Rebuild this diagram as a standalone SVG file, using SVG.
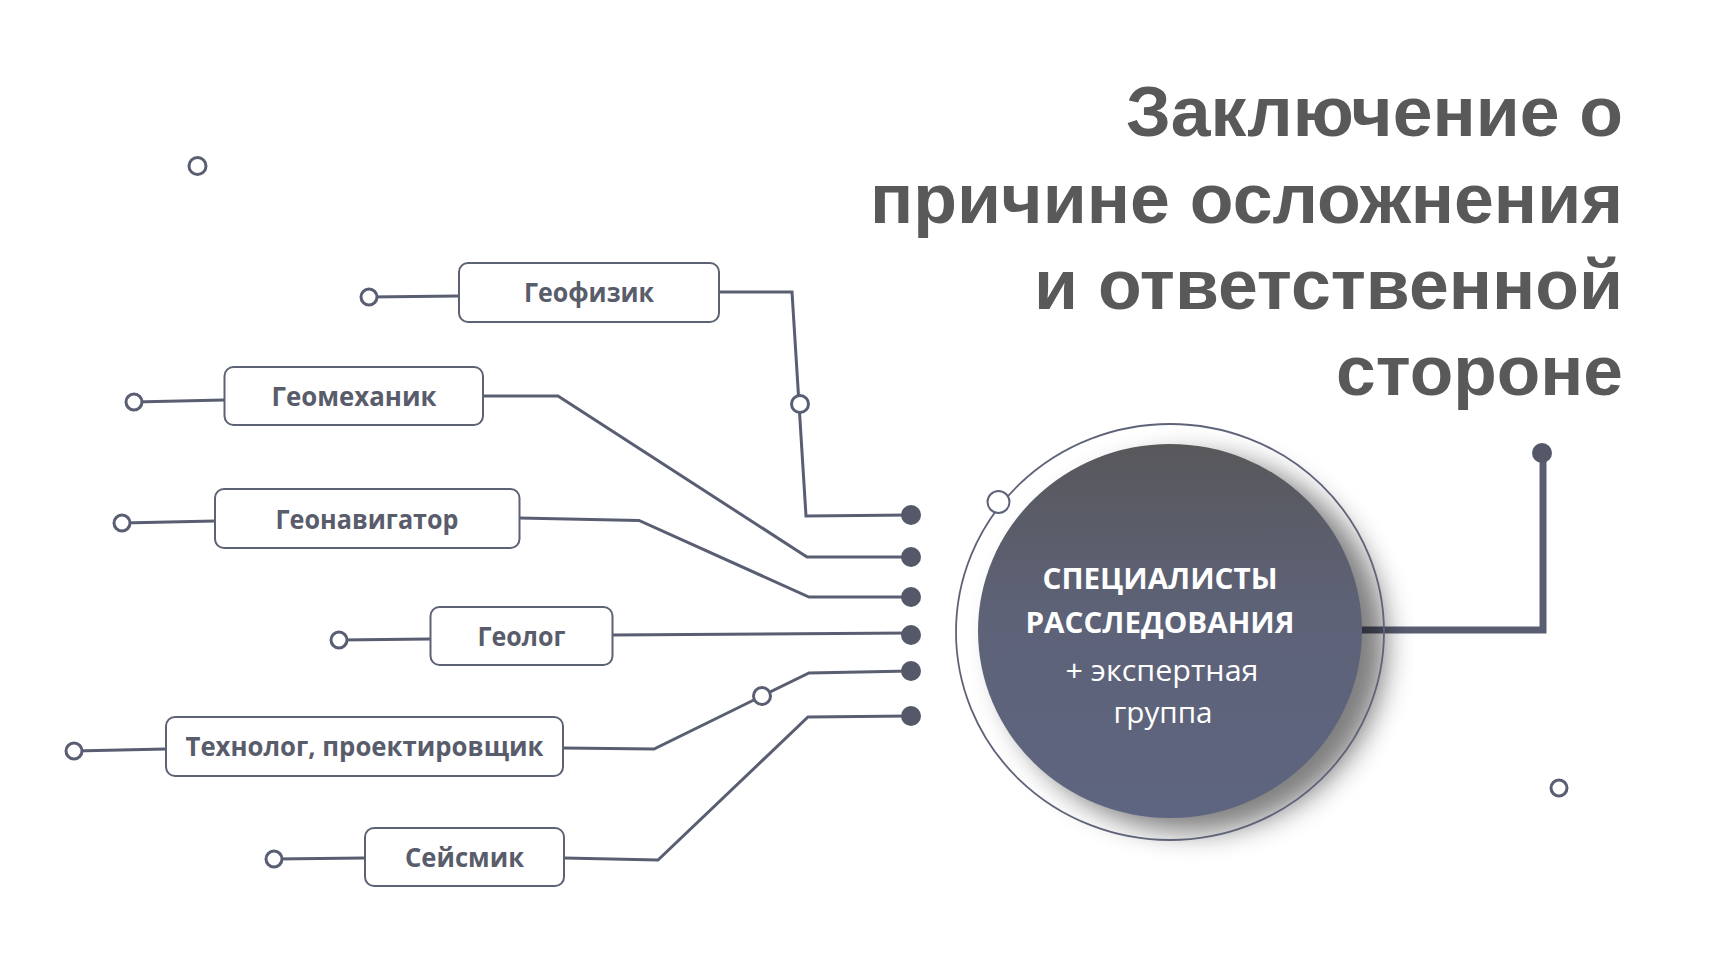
<svg xmlns="http://www.w3.org/2000/svg" width="1711" height="973" viewBox="0 0 1711 973">
<defs>
<style>
.box{fill:#fff;stroke:#5d6275;stroke-width:2}
.lbl{font-family:"Open Sans","Noto Sans",sans-serif;font-weight:700;font-size:27px;fill:#595c6b;text-anchor:middle}
.ln{fill:none;stroke:#5a5e72;stroke-width:3;stroke-linejoin:miter}
.oc{fill:#fff;stroke:#5a5e72;stroke-width:3}
.dot{fill:#545869}
.ttl{font-family:"Liberation Sans",Arial,sans-serif;font-weight:700;font-size:70px;fill:#595959;text-anchor:end}
.ct{font-family:"Open Sans","Noto Sans",sans-serif;fill:#fff;text-anchor:middle}
</style>
<linearGradient id="g" x1="0" y1="0" x2="0" y2="1">
<stop offset="0" stop-color="#58585b"/>
<stop offset="0.45" stop-color="#5d6277"/>
<stop offset="1" stop-color="#5e6580"/>
</linearGradient>
<filter id="sh" x="-30%" y="-30%" width="160%" height="160%"><feGaussianBlur stdDeviation="14"/></filter>
</defs>
<rect width="1711" height="973" fill="#fff"/>

<g id="title">
<text class="ttl" x="1623" y="136" textLength="497" lengthAdjust="spacingAndGlyphs">Заключение о</text>
<text class="ttl" x="1623" y="223" textLength="753" lengthAdjust="spacingAndGlyphs">причине осложнения</text>
<text class="ttl" x="1623" y="309" textLength="589" lengthAdjust="spacingAndGlyphs">и ответственной</text>
<text class="ttl" x="1623" y="395" textLength="287" lengthAdjust="spacingAndGlyphs">стороне</text>
</g>

<g id="connectors">
<path class="ln" d="M369,297 L459,296"/>
<path class="ln" d="M134,402 L224,400"/>
<path class="ln" d="M122,523 L215,521"/>
<path class="ln" d="M339,640 L430,639"/>
<path class="ln" d="M74,751 L166,749"/>
<path class="ln" d="M274,859 L365,858"/>
<path class="ln" d="M719,292 L792,292 L806,516 L911,515"/>
<path class="ln" d="M483,396 L558,396 L807,557 L911,557"/>
<path class="ln" d="M519,518 L639,520.5 L809,597 L911,597"/>
<path class="ln" d="M612,635 L911,633"/>
<path class="ln" d="M563,748 L654,749 L762,696 L809,673 L911,671"/>
<path class="ln" d="M564,858 L658,860 L808,717 L911,716"/>
<path fill="none" stroke="#5a5e72" stroke-width="7" d="M1354,630 L1543,630 L1543,453"/>
<circle class="oc" cx="369" cy="297" r="8"/>
<circle class="oc" cx="134" cy="402" r="8"/>
<circle class="oc" cx="122" cy="523" r="8"/>
<circle class="oc" cx="339" cy="640" r="8"/>
<circle class="oc" cx="74" cy="751" r="8"/>
<circle class="oc" cx="274" cy="859" r="8"/>
<circle class="oc" cx="800" cy="404" r="8.5"/>
<circle class="oc" cx="762" cy="696" r="8.5"/>
<circle class="dot" cx="911" cy="515" r="10"/>
<circle class="dot" cx="911" cy="557" r="10"/>
<circle class="dot" cx="911" cy="597" r="10"/>
<circle class="dot" cx="911" cy="635" r="10"/>
<circle class="dot" cx="911" cy="671" r="10"/>
<circle class="dot" cx="911" cy="716" r="10"/>
<circle class="dot" cx="1542" cy="453" r="10"/>
</g>

<g id="deco">
<circle class="oc" cx="197.5" cy="166" r="8.5"/>
<circle class="oc" cx="1559" cy="788" r="8"/>
</g>

<g id="n-geofizik">
<rect class="box" x="459" y="263" width="260" height="59" rx="9"/>
<text class="lbl" x="589" y="302" textLength="130" lengthAdjust="spacingAndGlyphs">Геофизик</text>
</g>
<g id="n-geomekhanik">
<rect class="box" x="224.5" y="367" width="258.5" height="58" rx="9"/>
<text class="lbl" x="354" y="406" textLength="165" lengthAdjust="spacingAndGlyphs">Геомеханик</text>
</g>
<g id="n-geonavigator">
<rect class="box" x="215" y="489" width="304.5" height="59" rx="9"/>
<text class="lbl" x="367" y="528.5" textLength="183" lengthAdjust="spacingAndGlyphs">Геонавигатор</text>
</g>
<g id="n-geolog">
<rect class="box" x="430.5" y="607" width="182" height="58" rx="9"/>
<text class="lbl" x="521.5" y="645.5" textLength="88" lengthAdjust="spacingAndGlyphs">Геолог</text>
</g>
<g id="n-tekhnolog">
<rect class="box" x="166" y="717" width="397" height="59" rx="9"/>
<text class="lbl" x="364.5" y="756" textLength="358" lengthAdjust="spacingAndGlyphs">Технолог, проектировщик</text>
</g>
<g id="n-seysmik">
<rect class="box" x="365" y="828" width="199" height="58" rx="9"/>
<text class="lbl" x="464.5" y="866.5" textLength="119" lengthAdjust="spacingAndGlyphs">Сейсмик</text>
</g>

<g id="n-center">
<ellipse cx="1192" cy="644" rx="194" ry="188" fill="#000" opacity="0.5" filter="url(#sh)"/>
<ellipse cx="1170" cy="631" rx="192" ry="187" fill="url(#g)"/>
<ellipse cx="1170" cy="632" rx="214" ry="208" fill="none" stroke="#5f6379" stroke-width="1.8"/>
<circle cx="998.5" cy="502" r="11" fill="#fff" stroke="#5f6379" stroke-width="2"/>
<text class="ct" x="1160" y="589" font-size="29" font-weight="700" textLength="235" lengthAdjust="spacingAndGlyphs">СПЕЦИАЛИСТЫ</text>
<text class="ct" x="1160" y="633" font-size="29" font-weight="700" textLength="269" lengthAdjust="spacingAndGlyphs">РАССЛЕДОВАНИЯ</text>
<text class="ct" x="1162" y="681" font-size="29" textLength="193" lengthAdjust="spacingAndGlyphs">+ экспертная</text>
<text class="ct" x="1163" y="723" font-size="29" textLength="99" lengthAdjust="spacingAndGlyphs">группа</text>
</g>
</svg>
